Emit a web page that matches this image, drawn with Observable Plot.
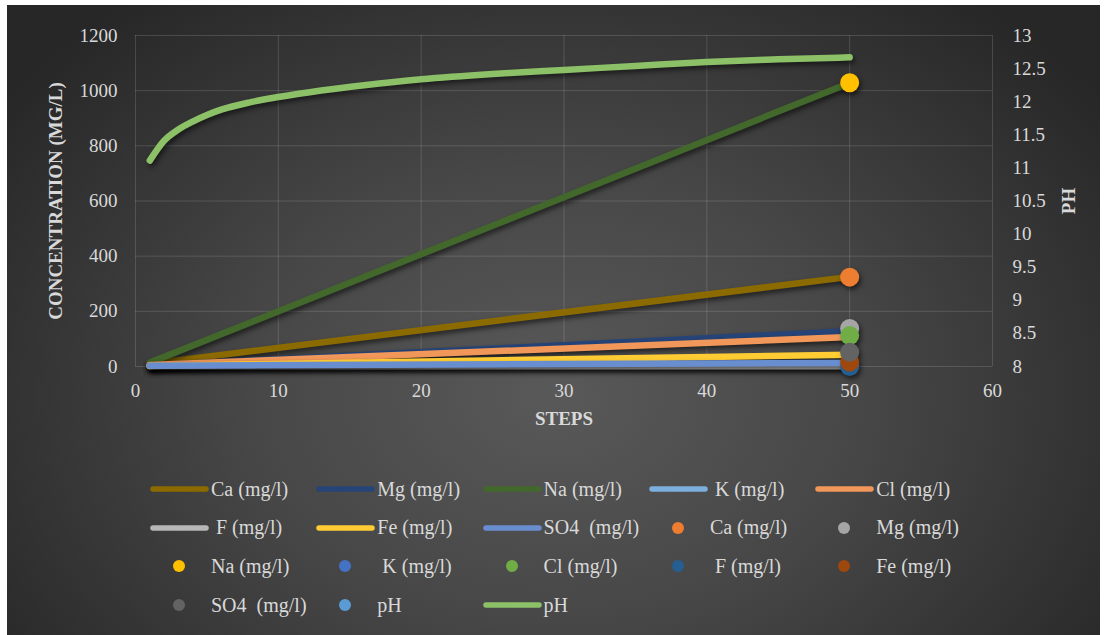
<!DOCTYPE html>
<html>
<head>
<meta charset="utf-8">
<script src="https://cdn.jsdelivr.net/npm/d3@7"></script>
<script src="https://cdn.jsdelivr.net/npm/@observablehq/plot@0.6"></script>
<style>
  html, body { margin: 0; padding: 0; background: #ffffff; }
  #chart {
    position: absolute; left: 7px; top: 5px; width: 1093px; height: 630px;
    background: radial-gradient(ellipse 62% 80% at 50% 62%, #595959 0%, #474747 45%, #272727 100%);
    font-family: "Liberation Serif", "Times New Roman", Times, "Noto Serif", "DejaVu Serif", FreeSerif, serif;
    overflow: hidden;
  }
  #plot { position: absolute; left: 0; top: 0; }
  #plot svg g[aria-label="line"] { filter: drop-shadow(2px 3px 2.5px rgba(0,0,0,0.55)); }
  #plot svg g[aria-label="dot"] { filter: drop-shadow(2px 3px 2.5px rgba(0,0,0,0.55)); }
  .lg { position: absolute; height: 24px; display: flex; align-items: center; color: #d9d9d9; font-size: 20px; white-space: pre; font-family: inherit; }
  .lg svg { flex: none; }
</style>
</head>
<body>
<div id="chart">
  <div id="plot"></div>
  <div id="legend"></div>
</div>
<script>
// Ion concentrations along the reaction path (step 1 → step 50)
const steps = [1, 50];
const ionNames = ["Ca (mg/l)", "Mg (mg/l)", "Na (mg/l)", "K (mg/l)", "Cl (mg/l)", "F (mg/l)", "Fe (mg/l)", "SO4  (mg/l)"];
const ionStart = [10, 4, 14, 4, 5, 0.5, 2, 3];
const ionEnd = [325, 128, 1028, 4, 107, 1, 43, 13];
// Final-step markers
const markerStep = 50;
const markerValues = [324, 138, 1029, 4, 112, 0, 16, 52];
const lineColors = ["#8B6B00", "#264478", "#43682B", "#7CAFDD", "#F1975A", "#B7B7B7", "#FFCD33", "#698ED0"];
const markerColors = ["#ED7D31", "#A5A5A5", "#FFC000", "#4472C4", "#70AD47", "#255E91", "#9E480E", "#636363"];

// pH along the path (secondary axis)
const pHSteps = [1, 2, 3, 4, 5, 6, 8, 10, 13, 16, 20, 25, 30, 35, 40, 45, 50];
const pHValues = [11.11, 11.41, 11.58, 11.70, 11.80, 11.88, 11.99, 12.07, 12.17, 12.25, 12.34, 12.42, 12.48, 12.54, 12.60, 12.64, 12.67];
const pHLineColor = "#8CC168";
const pHMarkerColor = "#5B9BD5";

// Axis ticks
const xTicks = [0, 10, 20, 30, 40, 50, 60];
const yTicks = [0, 200, 400, 600, 800, 1000, 1200];
const pHTicks = [8, 8.5, 9, 9.5, 10, 10.5, 11, 11.5, 12, 12.5, 13];

// Secondary pH axis is mapped onto the concentration range
const pHToConc = d3.scaleLinear([8, 13], [0, 1200]);

const ionRows = ionNames.flatMap((name, i) =>
  steps.map((s, j) => ({name, i, step: s, value: j === 0 ? ionStart[i] : ionEnd[i]})));
const markerRows = ionNames.map((name, i) => ({name, i, step: markerStep, value: markerValues[i]}));
const pHRows = pHSteps.map((s, i) => ({step: s, pH: pHValues[i]}));

const textColor = "#d9d9d9";
const serif = "'Liberation Serif', 'Times New Roman', Times, 'Noto Serif', 'DejaVu Serif', FreeSerif, serif";

const chart = Plot.plot({
  width: 1093,
  height: 440,
  marginLeft: 128,
  marginRight: 108,
  marginTop: 30,
  marginBottom: 79,
  style: {background: "transparent", color: textColor, fontFamily: serif, fontSize: "19px"},
  x: {domain: [0, 60], axis: null},
  y: {domain: [0, 1200], axis: null},
  marks: [
    Plot.gridY(yTicks, {stroke: "#ffffff", strokeOpacity: 0.14, strokeWidth: 1}),
    Plot.gridX(xTicks, {stroke: "#ffffff", strokeOpacity: 0.14, strokeWidth: 1}),
    Plot.axisX(xTicks, {tickSize: 0, tickPadding: 17, tickFormat: d => String(d), label: null, fontSize: 19}),
    Plot.axisY(yTicks, {tickSize: 0, tickPadding: 18, tickFormat: d => String(d), label: null, fontSize: 19}),
    Plot.axisY(pHTicks.map(p => pHToConc(p)), {anchor: "right", tickSize: 0, tickPadding: 20, tickFormat: (d, i) => String(pHTicks[i]), label: null, fontSize: 19}),
    ...ionNames.map((name, i) =>
      Plot.line(ionRows.filter(d => d.i === i), {x: "step", y: "value", stroke: lineColors[i], strokeWidth: 6.5, strokeLinecap: "round"})),
    Plot.line(pHRows, {x: "step", y: d => pHToConc(d.pH), stroke: pHLineColor, strokeWidth: 6.5, strokeLinecap: "round", curve: "monotone-x"}),
    Plot.dot(markerRows, {x: "step", y: "value", r: 9.5, fill: d => markerColors[d.i], stroke: null}),
    Plot.text(["CONCENTRATION (MG/L)"], {text: d => d, frameAnchor: "left", textAnchor: "middle", dx: -80, rotate: -90, fontWeight: "bold", fontSize: 19, fill: textColor}),
    Plot.text(["PH"], {text: d => d, frameAnchor: "right", textAnchor: "middle", dx: 76, rotate: -90, fontWeight: "bold", fontSize: 19, fill: textColor}),
    Plot.text(["STEPS"], {text: d => d, frameAnchor: "bottom", dy: 58, fontWeight: "bold", fontSize: 19, fill: textColor})
  ]
});
document.getElementById("plot").appendChild(chart);

// Legend: line entries, marker entries, then the pH pair
const legendEntries = [
  ...ionNames.map((n, i) => ({type: "line", label: n, color: lineColors[i]})),
  ...ionNames.map((n, i) => ({type: "dot", label: n, color: markerColors[i]})),
  {type: "dot", label: "pH", color: pHMarkerColor},
  {type: "line", label: "pH", color: pHLineColor}
];
const spaced = new Set(["K (mg/l)", "F (mg/l)"]);
const legend = document.getElementById("legend");
legendEntries.forEach((e, k) => {
  const col = k % 5, row = Math.floor(k / 5);
  const el = document.createElement("div");
  el.className = "lg";
  el.style.left = (143 + col * 166.3) + "px";
  el.style.top = (472 + row * 38.7) + "px";
  const sym = e.type === "line"
    ? `<svg width="61" height="10"><line x1="3" y1="5" x2="56" y2="5" stroke="${e.color}" stroke-width="5.5" stroke-linecap="round"/></svg>`
    : `<svg width="61" height="14"><circle cx="29" cy="7" r="6" fill="${e.color}"/></svg>`;
  const lbl = spaced.has(e.label) ? " " + e.label : e.label;
  el.innerHTML = sym + `<span>${lbl}</span>`;
  legend.appendChild(el);
});
</script>
</body>
</html>
